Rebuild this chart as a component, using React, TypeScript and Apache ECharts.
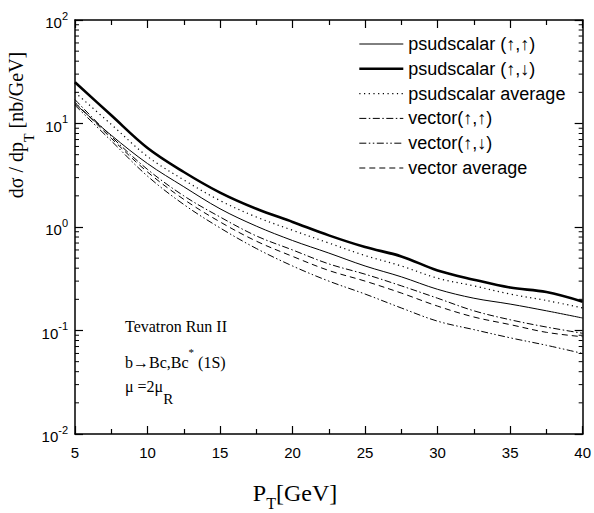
import React, { useEffect, useRef } from "react";
import * as echarts from "echarts";

const ptValues = [5, 7.5, 10, 12.5, 15, 17.5, 20, 22.5, 25, 27.5, 30, 32.5, 35, 37.5, 40];
const psUpUp = [15.5, 7.7, 4.1, 2.45, 1.5, 1.02, 0.74, 0.56, 0.42, 0.33, 0.25, 0.205, 0.18, 0.155, 0.132];
const psUpDown = [25, 12, 5.8, 3.4, 2.15, 1.5, 1.12, 0.83, 0.64, 0.52, 0.38, 0.31, 0.26, 0.235, 0.19];
const psAverage = [20, 9.8, 4.8, 2.85, 1.8, 1.25, 0.93, 0.7, 0.53, 0.42, 0.32, 0.27, 0.225, 0.195, 0.165];
const vecUpUp = [17, 7.5, 3.6, 2.0, 1.25, 0.82, 0.6, 0.44, 0.35, 0.27, 0.205, 0.155, 0.127, 0.108, 0.094];
const vecUpDown = [15, 6.8, 3.1, 1.65, 0.98, 0.62, 0.42, 0.3, 0.225, 0.165, 0.123, 0.102, 0.085, 0.072, 0.06];
const vecAverage = [16, 7.2, 3.4, 1.85, 1.12, 0.73, 0.52, 0.38, 0.3, 0.23, 0.172, 0.135, 0.114, 0.096, 0.087];

const seriesNames = [
  "psudscalar (\u2191,\u2191)",
  "psudscalar (\u2191,\u2193)",
  "psudscalar average",
  "vector(\u2191,\u2191)",
  "vector(\u2191,\u2193)",
  "vector average",
];
const xTicks = [5, 10, 15, 20, 25, 30, 35, 40];
const yDecades = [0.01, 0.1, 1, 10, 100];
const minorMultipliers = [2, 3, 4, 5, 6, 7, 8, 9];

const sans = "'Liberation Sans', Arial, sans-serif";
const serif = "'Liberation Serif', 'Times New Roman', serif";

export default function App() {
  const ref = useRef<HTMLDivElement>(null);
  useEffect(() => {
    if (!ref.current) return;
    const chart = echarts.init(ref.current, undefined, { renderer: "svg" });
    const minorVals: number[][] = [];
    for (let i = 0; i < yDecades.length - 1; i++) {
      for (const m of minorMultipliers) minorVals.push([xTicks[0], yDecades[i] * m]);
    }
    const styles = [
      { width: 1, type: "solid" as any },
      { width: 2.6, type: "solid" as any },
      { width: 1.2, type: [1.2, 3.5] as any },
      { width: 1, type: [7, 2.5, 1.5, 2.5] as any },
      { width: 1, type: [7, 2.5, 1.5, 2.5, 1.5, 2.5] as any },
      { width: 1, type: [6, 4] as any },
    ];
    const dataSets = [psUpUp, psUpDown, psAverage, vecUpUp, vecUpDown, vecAverage];
    const lineSeries = dataSets.map((d, i) => ({
      type: "line",
      name: seriesNames[i],
      data: ptValues.map((x, j) => [x, d[j]]),
      showSymbol: false,
      symbol: "none",
      smooth: 0.35,
      lineStyle: { color: "#000", width: styles[i].width, type: styles[i].type },
      itemStyle: { color: "#000" },
      z: 3,
    }));
    const axisLine = { show: true, lineStyle: { color: "#000", width: 1.5 } };
    const tickStyle = { color: "#000", width: 1.2 };
    chart.setOption({
      animation: false,
      backgroundColor: "#fff",
      grid: { left: 75, right: 8, top: 20, bottom: 79 },
      legend: {
        data: seriesNames.map((n, i) => ({
          name: n,
          itemStyle: { opacity: 0 },
          lineStyle: { color: "#000", width: styles[i].width, type: styles[i].type },
        })),
        orient: "vertical",
        left: 358,
        top: 35,
        padding: 0,
        itemWidth: 44,
        itemHeight: 18,
        itemGap: 6.8,
        itemStyle: { opacity: 0 },
        textStyle: { fontFamily: sans, fontSize: 18, color: "#000", lineHeight: 18 },
        selectedMode: false,
      },
      xAxis: [
        {
          type: "value",
          min: 5,
          max: 40,
          interval: 5,
          position: "bottom",
          axisLine,
          axisTick: { inside: true, length: 8, lineStyle: tickStyle },
          minorTick: { show: true, splitNumber: 2, length: 5, lineStyle: tickStyle },
          splitLine: { show: false },
          axisLabel: { fontFamily: sans, fontSize: 15, color: "#000", margin: 11 },
        },
        {
          type: "value",
          min: 5,
          max: 40,
          interval: 5,
          position: "top",
          axisLine,
          axisTick: { inside: true, length: 8, lineStyle: tickStyle },
          minorTick: { show: true, splitNumber: 2, length: 5, lineStyle: tickStyle },
          splitLine: { show: false },
          axisLabel: { show: false },
        },
      ],
      yAxis: [
        {
          type: "log",
          logBase: 10,
          min: 0.01,
          max: 100,
          position: "left",
          axisLine,
          axisTick: { inside: true, length: 8, lineStyle: tickStyle },
          splitLine: { show: false },
          axisLabel: {
            margin: 7,
            formatter: (v: number) => `{b|10}{s|${Math.round(Math.log10(v))}}`,
            rich: {
              b: { fontFamily: sans, fontSize: 15, color: "#000", lineHeight: 20, verticalAlign: "bottom" },
              s: { fontFamily: sans, fontSize: 11, color: "#000", lineHeight: 20, verticalAlign: "top" },
            },
          },
        },
        {
          type: "log",
          logBase: 10,
          min: 0.01,
          max: 100,
          position: "right",
          axisLine,
          axisTick: { inside: true, length: 8, lineStyle: tickStyle },
          splitLine: { show: false },
          axisLabel: { show: false },
        },
      ],
      series: [
        ...lineSeries,
        {
          type: "custom",
          name: "minorTicks",
          data: minorVals,
          clip: false,
          silent: true,
          z: 5,
          encode: { x: 0, y: 1 },
          renderItem: (_params: any, api: any) => {
            const v = api.value(1);
            const l = api.coord([xTicks[0], v]);
            const r = api.coord([xTicks[xTicks.length - 1], v]);
            const st = { stroke: "#000", lineWidth: 1 };
            return {
              type: "group",
              children: [
                { type: "line", shape: { x1: l[0], y1: l[1], x2: l[0] + 4, y2: l[1] }, style: st },
                { type: "line", shape: { x1: r[0] - 4, y1: r[1], x2: r[0], y2: r[1] }, style: st },
              ],
            };
          },
        },
      ],
      graphic: [
        {
          type: "text",
          x: 21,
          y: 125,
          rotation: Math.PI / 2,
          style: {
            text: "{n|d\u03C3 / dp}{sub|T}{n| [nb/GeV]}",
            align: "center",
            verticalAlign: "middle",
            rich: {
              n: { fontFamily: serif, fontSize: 20, fill: "#000", lineHeight: 22, verticalAlign: "top" },
              sub: { fontFamily: serif, fontSize: 14, fill: "#000", lineHeight: 30, verticalAlign: "bottom" },
            },
          },
        },
        {
          type: "text",
          x: 295,
          y: 496,
          style: {
            text: "{n|P}{sub|T}{n|[GeV]}",
            align: "center",
            verticalAlign: "middle",
            rich: {
              n: { fontFamily: serif, fontSize: 24, fill: "#000", lineHeight: 24, verticalAlign: "top" },
              sub: { fontFamily: serif, fontSize: 16, fill: "#000", lineHeight: 30, verticalAlign: "bottom" },
            },
          },
        },
        {
          type: "text",
          left: 125,
          top: 318,
          style: { text: "Tevatron Run II", fontFamily: serif, fontSize: 16, fill: "#000" },
        },
        {
          type: "text",
          left: 125,
          top: 346,
          style: {
            text: "{n|b\u2192Bc,Bc}{sup|*}{n| (1S)}",
            rich: {
              n: { fontFamily: serif, fontSize: 16, fill: "#000", lineHeight: 24, verticalAlign: "bottom" },
              sup: { fontFamily: serif, fontSize: 11, fill: "#000", lineHeight: 24, verticalAlign: "top" },
            },
          },
        },
        {
          type: "text",
          left: 125,
          top: 378,
          style: {
            text: "{n|\u03BC =2\u03BC}{sub|R}",
            rich: {
              n: { fontFamily: serif, fontSize: 16, fill: "#000", lineHeight: 18, verticalAlign: "top" },
              sub: { fontFamily: serif, fontSize: 15, fill: "#000", lineHeight: 28, verticalAlign: "bottom" },
            },
          },
        },
      ],
    });
    return () => chart.dispose();
  }, []);
  return <div ref={ref} style={{ width: 594, height: 513, position: "absolute", left: 0, top: 0 }} />;
}
